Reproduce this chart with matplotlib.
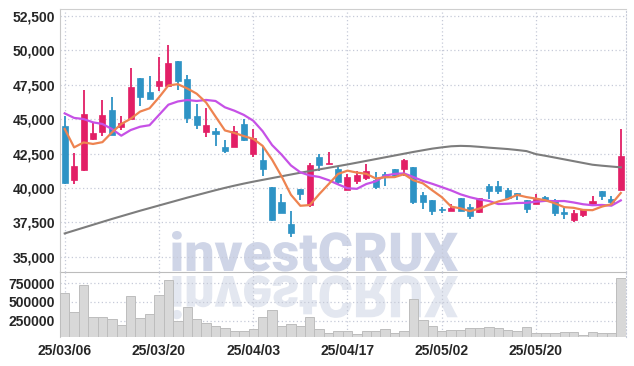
import numpy as np
import matplotlib.pyplot as plt
from matplotlib.textpath import TextPath
from matplotlib.patches import PathPatch
from matplotlib.font_manager import FontProperties
from matplotlib.transforms import Affine2D

# trading days (yy/mm/dd)
dates = ['25/03/06', '25/03/07', '25/03/10', '25/03/11', '25/03/12', '25/03/13', '25/03/14', '25/03/17', '25/03/18', '25/03/19',
         '25/03/20', '25/03/21', '25/03/24', '25/03/25', '25/03/26', '25/03/27', '25/03/28', '25/03/31', '25/04/01', '25/04/02',
         '25/04/03', '25/04/04', '25/04/07', '25/04/08', '25/04/09', '25/04/10', '25/04/11', '25/04/14', '25/04/15', '25/04/16',
         '25/04/17', '25/04/18', '25/04/21', '25/04/22', '25/04/23', '25/04/24', '25/04/25', '25/04/28', '25/04/29', '25/04/30',
         '25/05/02', '25/05/07', '25/05/08', '25/05/09', '25/05/12', '25/05/13', '25/05/14', '25/05/15', '25/05/16', '25/05/19',
         '25/05/20', '25/05/21', '25/05/22', '25/05/23', '25/05/26', '25/05/27', '25/05/28', '25/05/29', '25/05/30', '25/06/02']

opens = [44500, 40550, 41300, 43550, 44100, 45700, 44450, 45000, 48000, 47000,
         47400, 47400, 49250, 47900, 45250, 44100, 44150, 42950, 43000, 44650,
         42450, 42000, 40050, 39000, 37400, 39900, 38800, 42250, 41750, 41350,
         39850, 40500, 40750, 40550, 41000, 41350, 41400, 41550, 39500, 39100,
         38500, 38350, 39250, 38650, 38250, 40150, 40150, 39850, 39650, 39150,
         38850, 39350, 39150, 38250, 37650, 38050, 38850, 39800, 39200, 39850]
highs = [45250, 42550, 47100, 44700, 46400, 46600, 45250, 48700, 48000, 48150,
         49500, 50400, 49250, 48200, 46100, 45800, 44350, 43500, 44500, 45000,
         44300, 43050, 40100, 39550, 38350, 39900, 41800, 42500, 42650, 41550,
         41000, 41200, 41750, 41150, 41150, 41350, 42100, 41550, 39700, 39150,
         38600, 38850, 39250, 38850, 39250, 40300, 40500, 40000, 39650, 39150,
         39550, 39450, 39200, 38550, 38400, 38500, 39450, 39800, 39450, 44300]
lows = [40300, 40300, 41250, 43500, 43800, 43850, 44200, 45000, 45950, 46500,
        47050, 47400, 47150, 44750, 44300, 43700, 43050, 42550, 43000, 43450,
        42250, 40900, 37600, 38150, 36450, 39100, 38650, 41250, 41750, 40250,
        39850, 40300, 40550, 39950, 40150, 40700, 40900, 38850, 38450, 38050,
        38150, 38300, 38300, 37750, 38200, 39200, 39600, 39150, 39150, 38150,
        38850, 38950, 38000, 37750, 37550, 37900, 38700, 39100, 38850, 39850]
closes = [40350, 41600, 45400, 44000, 45300, 43850, 44700, 47300, 46600, 46500,
          47800, 49050, 47750, 45050, 44600, 44600, 43950, 42700, 44150, 43450,
          43600, 41400, 37700, 38150, 36700, 39600, 41650, 41650, 41800, 40400,
          40800, 40950, 41200, 40100, 40850, 40850, 42000, 39000, 39000, 38300,
          38400, 38550, 38350, 38000, 39250, 39750, 39750, 39250, 39500, 38450,
          39200, 39150, 38150, 38100, 38200, 38450, 39050, 39450, 38950, 42300]

# moving averages as drawn
ma5 = [44290, 42950, 43310, 43200, 43330, 44030, 44650, 45030, 45550, 45790,
       46580, 47450, 47540, 47230, 46850, 46210, 45190, 44180, 44000, 43770,
       43570, 43060, 42060, 40860, 39510, 38710, 38760, 39550, 40280, 41020,
       41260, 41120, 41030, 40690, 40780, 40790, 41000, 40560, 40340, 39830,
       39340, 38650, 38520, 38320, 38510, 38780, 39020, 39200, 39500, 39340,
       39230, 39110, 38890, 38610, 38560, 38410, 38390, 38650, 38820, 39640]
ma10 = [45420, 45090, 45010, 44770, 44650, 44290, 43800, 44210, 44450, 44560,
        45305, 46050, 46285, 46390, 46320, 46395, 46320, 45860, 45615, 45310,
        44890, 44125, 43120, 42430, 41640, 41140, 40910, 40805, 40570, 40265,
        39985, 39940, 40290, 40485, 40900, 41025, 41060, 40795, 40515, 40305,
        40065, 39825, 39540, 39330, 39170, 39060, 38835, 38860, 38910, 38925,
        39005, 39065, 39045, 39055, 38950, 38820, 38750, 38770, 38715, 39100]
ma60 = [36700, 36910, 37120, 37330, 37540, 37750, 37950, 38150, 38350, 38540,
        38730, 38920, 39110, 39300, 39480, 39660, 39840, 40010, 40170, 40320,
        40460, 40590, 40720, 40850, 40980, 41110, 41230, 41350, 41470, 41590,
        41710, 41840, 41970, 42100, 42230, 42360, 42490, 42620, 42740, 42860,
        42950, 43030, 43060, 43040, 42990, 42930, 42880, 42830, 42760, 42680,
        42460, 42340, 42210, 42080, 41950, 41820, 41690, 41620, 41560, 41500]

volume = [615000, 360000, 720000, 295000, 295000, 270000, 190000, 580000, 280000, 335000,
          590000, 790000, 240000, 430000, 270000, 215000, 180000, 150000, 115000, 105000,
          135000, 295000, 385000, 180000, 200000, 180000, 295000, 135000, 80000, 105000,
          115000, 70000, 105000, 115000, 135000, 80000, 115000, 535000, 260000, 180000,
          105000, 125000, 125000, 150000, 150000, 160000, 150000, 125000, 110000, 160000,
          80000, 80000, 80000, 95000, 95000, 55000, 95000, 80000, 80000, 815000]

price_ticks = [35000, 37500, 40000, 42500, 45000, 47500, 50000, 52500]
volume_ticks = [250000, 500000, 750000]

RED = '#e21f66'
BLUE = '#2e93c5'
GRID = '#c6cad8'
tick_font = ['Liberation Sans Narrow', 'Liberation Sans', 'DejaVu Sans']

W, H = 634, 366
fig = plt.figure(figsize=(W / 100, H / 100), dpi=100)
fig.patch.set_facecolor('white')


def rect(l, t, r, b):
    return [l / W, 1 - b / H, (r - l) / W, (b - t) / H]


ax = fig.add_axes(rect(60, 9, 625.5, 272))
axv = fig.add_axes(rect(60, 272, 625.5, 337.3), sharex=ax)
for a in (ax, axv):
    a.set_facecolor('none')

x = np.arange(len(dates))
o = np.array(opens)
c = np.array(closes)
cols = np.where(c >= o, RED, BLUE)

ax.vlines(x, lows, highs, colors=cols, lw=1.3, zorder=3)
ax.bar(x, np.maximum(np.abs(c - o), 50), bottom=np.minimum(o, c), width=0.64,
       color=cols, edgecolor=cols, lw=0.5, zorder=4)

ax.plot(x, ma60, color='#7d7d7d', lw=1.5, zorder=5)
ax.plot(x, ma10, color='#c651e6', lw=1.6, zorder=5)
ax.plot(x, ma5, color='#ee8350', lw=1.6, zorder=6)

axv.bar(x, volume, width=1.0, color='#d8d8d8', edgecolor='#bdbdbd', lw=0.7, zorder=3)

ax.set_xlim(-0.5, 59.5)
ax.set_ylim(33900, 53000)
axv.set_ylim(25000, 900000)

ax.set_yticks(price_ticks)
ax.set_yticklabels([f'{v:,}' for v in price_ticks])
axv.set_yticks(volume_ticks)
axv.set_yticklabels([str(v) for v in volume_ticks])
axv.set_xticks(x[::10])
axv.set_xticklabels([dates[i] for i in x[::10]])

for a in (ax, axv):
    a.grid(True, ls=(0, (1, 2)), color=GRID, lw=0.9)
    a.set_axisbelow(True)
    a.tick_params(length=0, labelsize=10, labelcolor='#262626', pad=3.5)
    for lab in a.get_xticklabels() + a.get_yticklabels():
        lab.set_family(tick_font)
        lab.set_fontweight('bold')
    a.spines['left'].set_color('#c8c8c8')
    a.spines['right'].set_color(GRID)
    a.spines['right'].set_linestyle((0, (1, 2)))
ax.tick_params(axis='x', labelbottom=False)
ax.spines['top'].set_color('#cfcfcf')
ax.spines['bottom'].set_color('#bcbcbc')
axv.spines['top'].set_visible(False)
axv.spines['bottom'].set_visible(False)
axv.tick_params(axis='x', pad=4.5)

# watermark and its reflection
fp = FontProperties(family=['Roboto', 'Liberation Sans'], weight='black')
tp = TextPath((0, 0), 'investCRUX', size=50, prop=fp)
bb = tp.get_extents()
s = 286 / bb.width
to_fig = Affine2D().scale(1 / W, 1 / H) + fig.transFigure
main_tr = Affine2D().scale(s).translate(172 - bb.x0 * s, H - 271) + to_fig
refl_tr = Affine2D().scale(s, -s * 1.08).translate(172 - bb.x0 * s, H - 276) + to_fig
fig.add_artist(PathPatch(tp, transform=main_tr, facecolor='#cfd5e7', edgecolor='none', zorder=-1))
fig.add_artist(PathPatch(tp, transform=refl_tr, facecolor='#e3e7f0', edgecolor='none', zorder=-1))

fig.savefig('out.png', dpi=100, facecolor='white')
